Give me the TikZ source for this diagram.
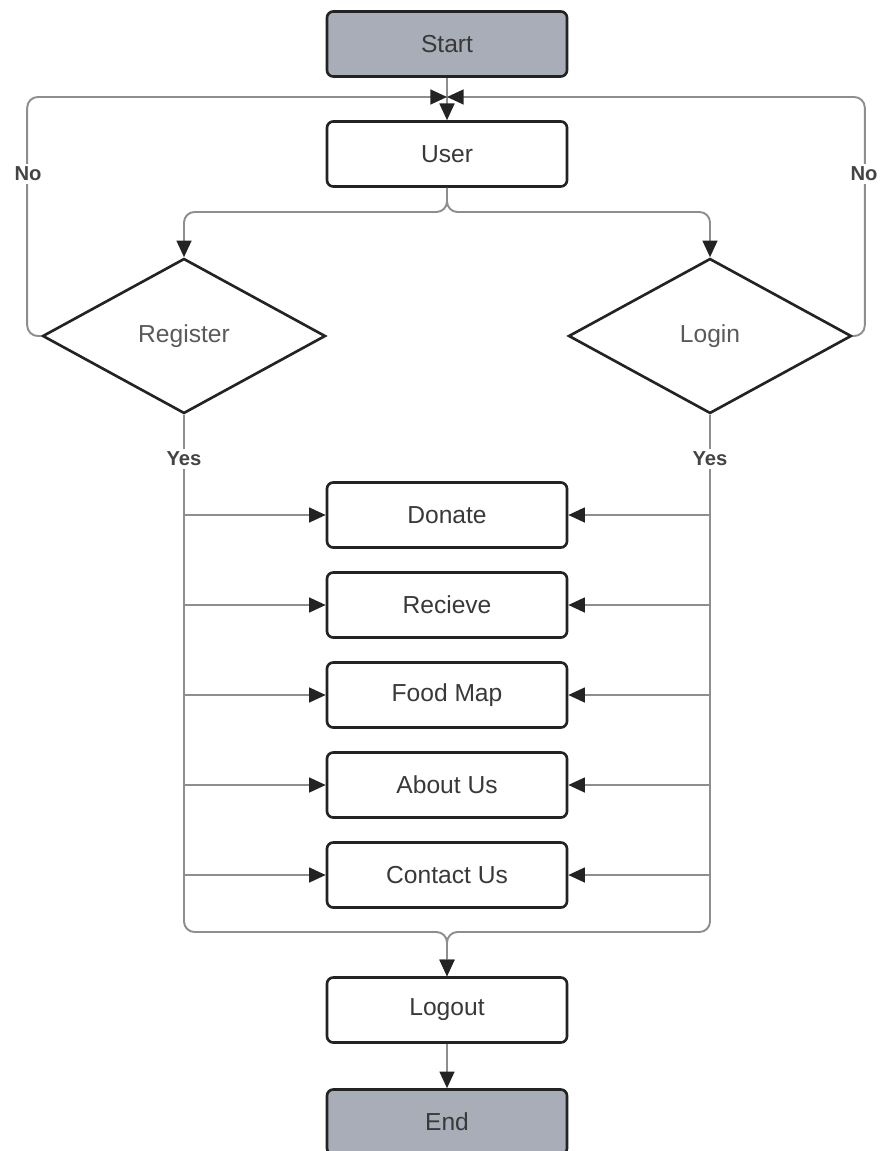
\documentclass[tikz,border=0pt]{standalone}
\usepackage{fontspec}
\setmainfont{Liberation Sans}
\usetikzlibrary{shapes.geometric,arrows.meta}
\definecolor{termgray}{HTML}{A8ADB8}
\definecolor{linegray}{HTML}{8E8E8E}
\definecolor{inkdark}{HTML}{232323}
\tikzset{
  box/.style={draw=inkdark,line width=1.5pt,rounded corners=3.5pt,minimum width=4.8cm,minimum height=1.3cm,fill=white,text=inkdark!90,font=\fontsize{14}{16}\selectfont},
  term/.style={box,fill=termgray},
  decide/.style={diamond,draw=inkdark,line width=1.5pt,minimum width=5.66cm,minimum height=3.1cm,inner sep=0pt,fill=white,text=inkdark!75,font=\fontsize{14}{16}\selectfont},
  conn/.style={draw=linegray,line width=1.1pt,rounded corners=6pt},
  tip/.style={-{Triangle[length=9.5pt,width=8.5pt,fill=inkdark,color=inkdark]}},
  lbl/.style={fill=white,inner sep=1.5pt,font=\bfseries\fontsize{11.5}{13}\selectfont,text=inkdark!85}
}
\begin{document}
\begin{tikzpicture}[x=0.02cm,y=-0.02cm]
    \path[use as bounding box,clip] (0,0) rectangle (880,1151);
    \node[term] (start) at (447,44) {Start};
    \node[box] (user) at (447,154) {User};
    \node[decide] (reg) at (184,336) {Register};
    \node[decide] (login) at (710,336) {Login};
    \node[box] (donate) at (447,515) {Donate};
    \node[box] (recv) at (447,605) {Recieve};
    \node[box] (fmap) at (447,695) {Food Map};
    \node[box] (about) at (447,785) {About Us};
    \node[box] (contact) at (447,875) {Contact Us};
    \node[box] (logout) at (447,1010) {Logout};
    \node[term] (end) at (447,1122) {End};
    \coordinate (join) at (447,97);
    \coordinate (split) at (447,212);
    \coordinate (merge) at (447,932);
    \draw[conn,tip] (start) -- (user);
    \draw[conn,tip] (reg.west) -- ++(-14,0) |- (join);
    \draw[conn,tip] (login.east) -- ++(12,0) |- (join);
    \draw[conn,tip] (user.south) -- (split) -| (reg.north);
    \draw[conn,tip] (user.south) -- (split) -| (login.north);
    \draw[conn,tip] (reg.south) |- (merge) -- (logout.north);
    \draw[conn,tip] (login.south) |- (merge) -- (logout.north);
    \draw[conn,tip] (logout) -- (end);
    \foreach \b in {donate,recv,fmap,about,contact}{
        \draw[conn,tip] (reg.south |- \b.west) -- (\b.west);
        \draw[conn,tip] (login.south |- \b.east) -- (\b.east);
    }
    \node[lbl] (nol) at (28,174) {No};
    \node[lbl] (nor) at (864,174) {No};
    \node[lbl] (yesl) at (184,459) {Yes};
    \node[lbl] (yesr) at (710,459) {Yes};
\end{tikzpicture}
\end{document}
